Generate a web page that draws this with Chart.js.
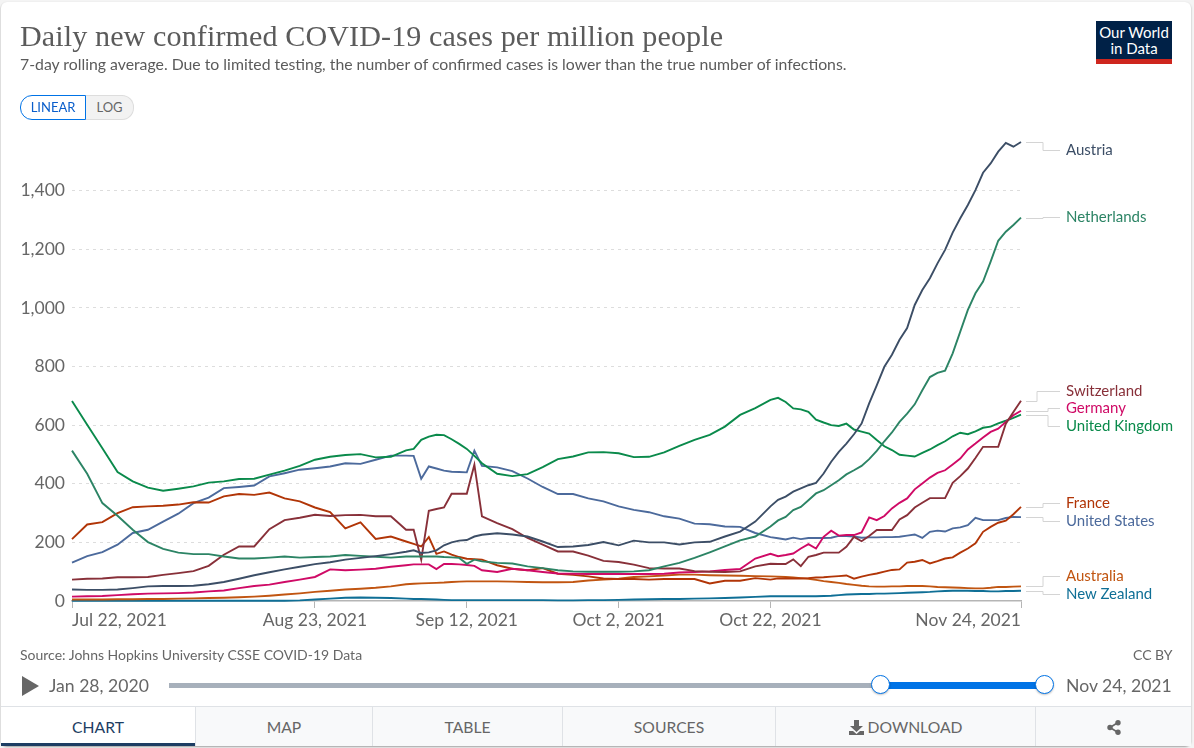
<!DOCTYPE html>
<html>
<head>
<meta charset="utf-8">
<title>Daily new confirmed COVID-19 cases per million people</title>
<script src="https://cdn.jsdelivr.net/npm/chart.js@4"></script>
<style>
	html, body { margin: 0; padding: 0; width: 1194px; height: 748px; overflow: hidden; background: #f4f4f4; font-family: Lato, sans-serif; color: #666; }
	#card { position: absolute; left: 1px; top: 2px; width: 1190px; height: 744px; background: #fff; border-radius: 6px; box-shadow: 0 1px 2px rgba(0, 0, 0, 0.35); }
	#chart { position: absolute; left: 0; top: 0; }
	.abs { position: absolute; white-space: nowrap; line-height: 1; }
	#title { left: 20px; top: 21px; font-family: "Liberation Serif", serif; font-size: 30.1px; color: #5b5b5b; letter-spacing: 0.1px; }
	#subtitle { left: 20px; top: 56px; font-size: 15.8px; color: #5b5b5b; }
	#logo { left: 1096px; top: 21px; width: 76px; height: 43px; background: #002147; color: #fff; text-align: center; font-size: 15px; }
	#logo div { line-height: 16px; }
	#logo .name { padding-top: 3px; }
	#logo .bar { position: absolute; left: 0; bottom: 0; width: 76px; height: 5px; background: #ce261e; }
	.toggle { top: 95px; height: 23px; line-height: 23px; font-size: 13px; text-align: center; box-sizing: content-box; }
	#linear { left: 20px; width: 64px; border: 1px solid #0073e6; border-radius: 12px 0 0 12px; color: #0a5ecb; }
	#log { left: 86px; width: 47px; border: 1px solid #ddd; border-left: 0; border-radius: 0 12px 12px 0; background: #f2f2f2; }
	.serieslabel { left: 1066px; font-size: 15px; }
	#source { left: 20px; top: 648px; font-size: 14px; }
	#ccby { left: 1133px; top: 648px; font-size: 14px; }
	.date { top: 677px; font-size: 17.6px; }
	#play { left: 22px; top: 676px; width: 0; height: 0; border-left: 17px solid #666; border-top: 10px solid transparent; border-bottom: 10px solid transparent; }
	#track { left: 169px; top: 683px; width: 712px; height: 5px; background: #a7b0bb; }
	#range { left: 881px; top: 682px; width: 164px; height: 7px; background: #0073e6; }
	.handle { top: 675px; width: 17px; height: 17px; border: 1.5px solid #0073e6; border-radius: 50%; background: #fff; box-shadow: 0 1px 2px rgba(0, 0, 0, 0.25); }
	#tabs { left: 1px; top: 706px; width: 1190px; height: 40px; background: #f8f9fa; border-top: 1px solid #dfe2e6; box-sizing: border-box; }
	.tab { top: 707px; height: 39px; line-height: 40px; text-align: center; font-size: 15.7px; border-right: 1px solid #dfe2e6; box-sizing: border-box; }
	.tab svg { vertical-align: -2px; }
	#tabchart { background: #fff; color: #1d3d63; border-bottom: 3px solid #1d3d63; }
</style>
</head>
<body>
<div id="card"></div>
<canvas id="chart" width="1194" height="748"></canvas>

<div class="abs" id="title">Daily new confirmed COVID-19 cases per million people</div>
<div class="abs" id="subtitle">7-day rolling average. Due to limited testing, the number of confirmed cases is lower than the true number of infections.</div>
<div class="abs" id="logo"><div class="name">Our World</div><div>in Data</div><div class="bar"></div></div>
<div class="abs toggle" id="linear">LINEAR</div>
<div class="abs toggle" id="log">LOG</div>

<div class="abs" id="source">Source: Johns Hopkins University CSSE COVID-19 Data</div>
<div class="abs" id="ccby">CC BY</div>
<div class="abs" id="play"></div>
<div class="abs date" style="left: 49px">Jan 28, 2020</div>
<div class="abs" id="track"></div>
<div class="abs" id="range"></div>
<div class="abs handle" style="left: 871px"></div>
<div class="abs handle" style="left: 1035px"></div>
<div class="abs date" style="left: 1066px">Nov 24, 2021</div>

<div class="abs" id="tabs"></div>
<div class="abs tab" id="tabchart" style="left: 1px; width: 194px; border-right: 0">CHART</div>
<div class="abs tab" style="left: 195px; width: 178px; border-left: 1px solid #dfe2e6">MAP</div>
<div class="abs tab" style="left: 373px; width: 190px">TABLE</div>
<div class="abs tab" style="left: 563px; width: 213px">SOURCES</div>
<div class="abs tab" style="left: 776px; width: 260px"><svg width="15" height="15" viewBox="0 0 15 15"><path d="M5 0h5v6h4l-6.5 6L1 6h4zM0 11h4l3.5 3 3.5-3h4v4H0z" fill="#666"/></svg> DOWNLOAD</div>
<div class="abs tab" style="left: 1036px; width: 155px; border-right: 0"><svg width="14" height="15" viewBox="0 0 14 15"><path d="M11 2.5L3 7.5l8 5" stroke="#666" stroke-width="1.6" fill="none"/><circle cx="11" cy="2.7" r="2.7" fill="#666"/><circle cx="3" cy="7.5" r="2.7" fill="#666"/><circle cx="11" cy="12.3" r="2.7" fill="#666"/></svg></div>

<script>
const days = [
	0, 2, 4, 6, 8, 10, 12, 14, 16, 18, 20, 22, 24, 26, 28, 30, 32, 34, 36, 38, 40, 42, 44,
	45, 46, 47, 48, 49, 50, 51, 52, 53, 54,
	56, 58, 60, 62, 64, 66, 68, 70, 72, 74, 76, 78, 80, 82, 84, 86, 88, 90, 92,
	93, 94, 95, 96, 97, 98, 99, 100, 101, 102, 103, 104, 105, 106, 107, 108, 109, 110, 111, 112, 113, 114, 115, 116, 117, 118, 119, 120, 121, 122, 123, 124, 125
];

const xTickDays = [0, 32, 52, 72, 92, 125];
const xTickLabels = ["Jul 22, 2021", "Aug 23, 2021", "Sep 12, 2021", "Oct 2, 2021", "Oct 22, 2021", "Nov 24, 2021"];
const yTicks = [0, 200, 400, 600, 800, 1000, 1200, 1400];

const austria = [
	39, 38, 38, 39, 44, 50, 51, 51, 52, 57, 65, 76, 88, 98, 108, 117, 126, 132, 141, 147, 153, 160, 168,
	173, 164, 166, 173, 190, 200, 206, 208, 220, 226,
	231, 227, 220, 203, 184, 186, 191, 201, 190, 206, 200, 200, 193, 200, 202, 220, 237, 271, 323,
	345, 356, 373, 384, 395, 403, 435, 475, 509, 537, 569, 605, 674, 736, 799, 840, 891, 931, 1010, 1061, 1101, 1152, 1198, 1257, 1306, 1351, 1402, 1461, 1493, 1533, 1563, 1550, 1566
];
const netherlands = [
	513, 434, 334, 291, 243, 201, 178, 165, 160, 160, 152, 145, 145, 148, 152, 148, 150, 152, 157, 154, 151, 148, 152,
	152, 152, 152, 152, 150, 149, 147, 127, 141, 135,
	130, 128, 118, 112, 105, 101, 100, 100, 100, 101, 105, 118, 130, 147, 166, 186, 207, 220, 254,
	275, 287, 310, 321, 344, 367, 378, 395, 412, 432, 446, 461, 484, 512, 545, 575, 611, 639, 671, 719, 764, 778, 786, 845, 919, 993, 1050, 1090, 1158, 1229, 1260, 1283, 1308
];
const switzerland = [
	73, 76, 77, 81, 81, 82, 89, 95, 102, 120, 158, 186, 186, 245, 276, 284, 294, 290, 293, 294, 289, 289, 243,
	243, 141, 308, 314, 319, 366, 366, 366, 465, 289,
	266, 245, 215, 192, 169, 169, 155, 137, 133, 124, 112, 111, 111, 102, 100, 99, 101, 118, 127,
	126, 126, 142, 119, 151, 157, 165, 165, 165, 185, 219, 204, 222, 242, 242, 242, 278, 293, 319, 335, 351, 351, 351, 403, 426, 452, 488, 526, 526, 526, 605, 645, 683
];
const germany = [
	15, 16, 17, 20, 23, 25, 26, 27, 29, 33, 36, 44, 51, 56, 65, 73, 82, 108, 105, 107, 110, 117, 122,
	125, 125, 125, 109, 126, 126, 125, 123, 120, 105,
	99, 110, 105, 99, 94, 93, 92, 93, 92, 92, 92, 93, 97, 99, 101, 106, 109, 145, 161,
	153, 157, 162, 179, 194, 179, 219, 240, 223, 225, 225, 234, 285, 276, 290, 316, 335, 350, 381, 401, 421, 437, 446, 466, 486, 517, 537, 558, 577, 588, 611, 634, 649
];
const unitedKingdom = [
	682, 601, 521, 440, 408, 387, 376, 383, 391, 404, 408, 416, 417, 431, 445, 461, 482, 492, 498, 501, 490, 492, 514,
	519, 550, 561, 567, 566, 552, 536, 519, 495, 470,
	434, 426, 433, 457, 484, 493, 507, 508, 504, 491, 492, 507, 529, 550, 567, 595, 635, 658, 686,
	693, 679, 657, 654, 645, 619, 609, 600, 597, 605, 585, 578, 571, 549, 528, 515, 499, 496, 493, 505, 517, 532, 545, 562, 574, 569, 579, 591, 595, 606, 615, 625, 636
];
const france = [
	211, 261, 269, 300, 320, 323, 325, 329, 337, 336, 357, 365, 362, 370, 350, 340, 319, 303, 248, 268, 212, 220, 203,
	195, 186, 218, 161, 169, 158, 150, 144, 143, 141,
	122, 110, 105, 112, 93, 89, 84, 77, 75, 75, 73, 75, 75, 75, 60, 69, 69, 78, 73,
	77, 77, 77, 77, 78, 80, 81, 83, 85, 87, 76, 83, 89, 94, 100, 106, 108, 131, 134, 140, 128, 136, 145, 149, 165, 179, 197, 236, 253, 267, 274, 296, 321
];
const unitedStates = [
	131, 153, 167, 192, 232, 243, 271, 298, 334, 353, 385, 389, 394, 425, 436, 448, 453, 459, 470, 468, 482, 496, 496,
	495, 417, 459, 452, 445, 441, 440, 439, 513, 461,
	456, 443, 418, 389, 365, 365, 350, 340, 323, 311, 303, 289, 281, 264, 262, 254, 253, 232, 218,
	214, 210, 216, 211, 215, 215, 215, 216, 222, 222, 220, 216, 217, 217, 218, 218, 219, 223, 227, 215, 236, 240, 237, 248, 251, 259, 284, 276, 276, 276, 283, 287, 286
];
const australia = [
	5, 5, 5, 6, 6, 7, 7, 8, 9, 10, 11, 13, 15, 18, 22, 26, 31, 35, 39, 42, 45, 50, 57,
	59, 60, 61, 62, 63, 65, 66, 67, 67, 67,
	67, 66, 65, 64, 64, 65, 70, 73, 76, 82, 84, 87, 90, 90, 88, 87, 86, 85, 84,
	83, 82, 80, 78, 76, 72, 68, 65, 62, 58, 55, 52, 50, 49, 49, 50, 50, 51, 51, 51, 50, 48, 47, 46, 45, 44, 43, 43, 45, 48, 48, 49, 50
];
const newZealand = [
	1, 1, 1, 1, 1, 1, 1, 1, 1, 1, 1, 1, 1, 1, 1, 2, 5, 8, 11, 12, 11, 10, 8,
	7, 7, 6, 5, 4, 3, 3, 3, 3, 3,
	3, 3, 3, 3, 2, 2, 3, 3, 4, 5, 6, 7, 7, 8, 9, 10, 12, 14, 16,
	16, 16, 16, 16, 16, 16, 17, 18, 20, 22, 23, 24, 24, 25, 25, 26, 27, 28, 29, 30, 31, 33, 34, 35, 35, 35, 34, 34, 33, 33, 34, 34, 35
];

// name, values, colour, y centre of the end label, x of the connector elbow
const series = [
	["Austria", austria, "#3c4e66", 149.5, 1043],
	["Netherlands", netherlands, "#2c8465", 216.5, 1043],
	["Switzerland", switzerland, "#883039", 390.5, 1037],
	["Germany", germany, "#cf0a66", 407.5, 1048],
	["United Kingdom", unitedKingdom, "#0a8a4b", 425.5, 1048],
	["France", france, "#b13507", 502.5, 1043],
	["United States", unitedStates, "#4c6a9c", 520.5, 1043],
	["Australia", australia, "#c15511", 575.5, 1043],
	["New Zealand", newZealand, "#0f6f96", 593.5, 1043]
];

series.forEach(function (s) {
	const label = document.createElement("div");
	label.className = "abs serieslabel";
	label.textContent = s[0];
	label.style.color = s[2];
	label.style.top = s[3] - 8 + "px";
	document.body.appendChild(label);
});

// grey elbow lines between the end of each line and its label
const connectors = {
	id: "connectors",
	afterDraw: function (chart) {
		const ctx = chart.ctx;
		ctx.save();
		ctx.strokeStyle = "#d4d4d4";
		ctx.lineWidth = 1;
		series.forEach(function (s) {
			const y = Math.round(chart.scales.y.getPixelForValue(s[1][s[1].length - 1])) + 0.5;
			const labelY = Math.round(s[3]) + 0.5;
			ctx.beginPath();
			ctx.moveTo(1026, y);
			ctx.lineTo(s[4], y);
			ctx.lineTo(s[4], labelY);
			ctx.lineTo(1060, labelY);
			ctx.stroke();
		});
		ctx.restore();
	}
};

new Chart(document.getElementById("chart"), {
	type: "line",
	data: {
		datasets: series.map(function (s) {
			return {
				label: s[0],
				data: days.map(function (d, i) {
					return { x: d, y: s[1][i] };
				}),
				borderColor: s[2],
				borderWidth: 1.9,
				pointRadius: 0,
				tension: 0,
				clip: false
			};
		})
	},
	options: {
		responsive: false,
		animation: false,
		layout: { padding: { top: 142, right: 173, left: 0, bottom: 0 } },
		plugins: { legend: { display: false }, title: { display: false }, tooltip: { enabled: false } },
		scales: {
			x: {
				type: "linear",
				min: 0,
				max: 125,
				afterBuildTicks: function (axis) {
					axis.ticks = xTickDays.map(function (v) {
						return { value: v };
					});
				},
				afterFit: function (axis) {
					axis.height = 147;
				},
				grid: { drawOnChartArea: false, drawTicks: true, tickLength: 7, tickColor: "#b5b5b5" },
				border: { display: true, color: "#b5b5b5", width: 1.5 },
				ticks: {
					align: "inner",
					maxRotation: 0,
					autoSkip: false,
					padding: 2,
					color: "#666",
					font: { family: "Lato", size: 17.5 },
					callback: function (value) {
						return xTickLabels[xTickDays.indexOf(value)];
					}
				}
			},
			y: {
				min: 0,
				max: 1566,
				afterBuildTicks: function (axis) {
					axis.ticks = yTicks.map(function (v) {
						return { value: v };
					});
				},
				afterFit: function (axis) {
					axis.width = 72;
				},
				grid: {
					drawTicks: false,
					color: function (ctx) {
						return ctx.tick.value === 0 ? "transparent" : "#dddddd";
					}
				},
				border: { display: false, dash: [3, 4] },
				ticks: {
					padding: 7,
					color: "#666",
					font: { family: "Lato", size: 17.5 },
					callback: function (value) {
						return value.toLocaleString("en-US");
					}
				}
			}
		}
	},
	plugins: [connectors]
});
</script>
</body>
</html>
